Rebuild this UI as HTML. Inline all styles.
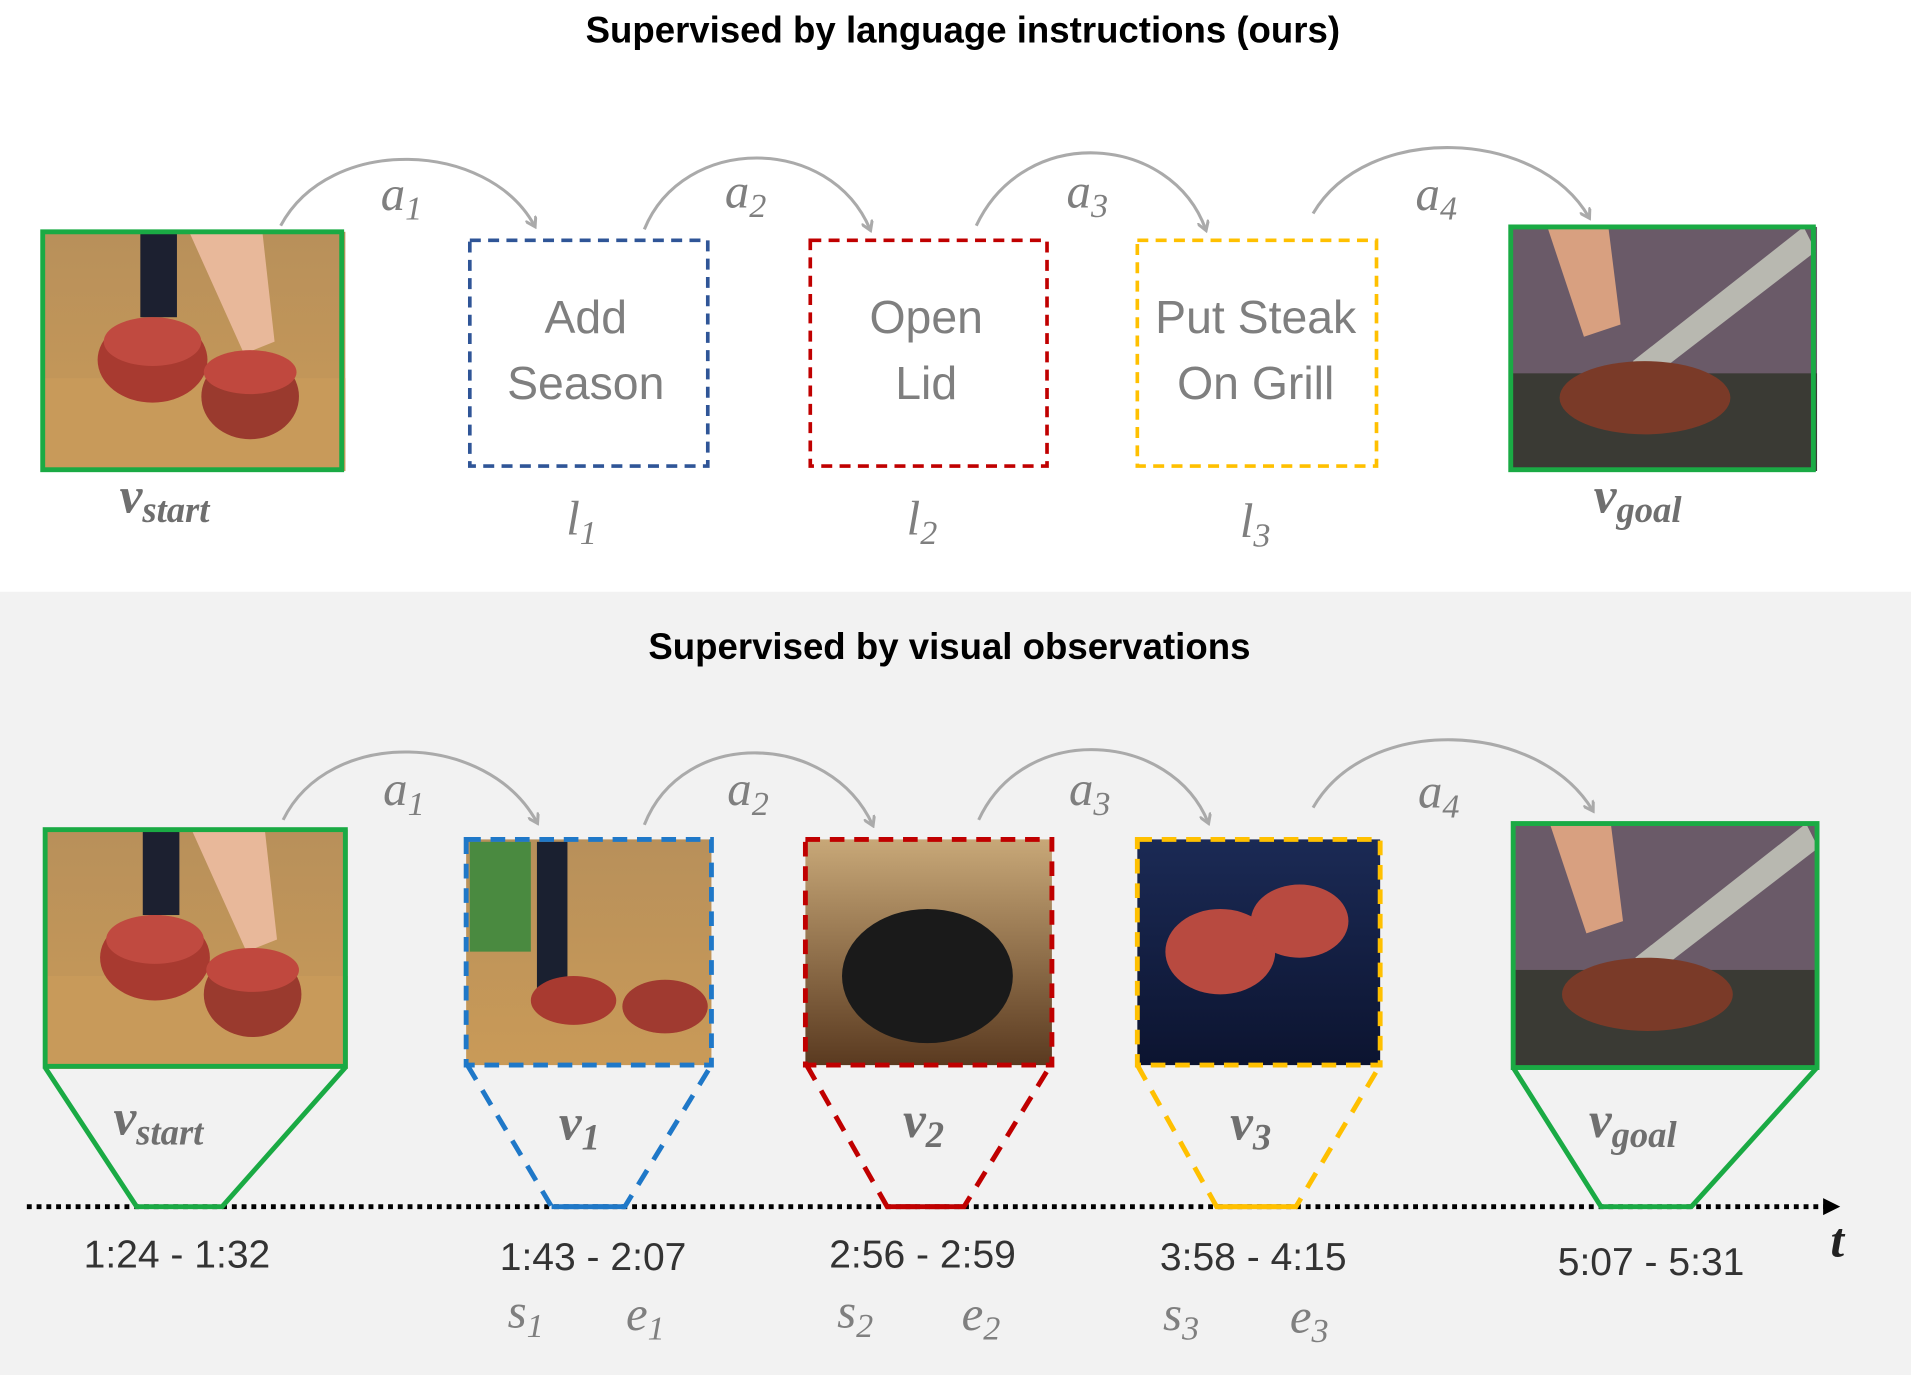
<!DOCTYPE html>
<html><head><meta charset="utf-8"><style>
html,body{margin:0;padding:0;background:#fff;width:1911px;height:1375px;overflow:hidden}
svg{display:block}
.t{font-family:"Liberation Sans",sans-serif;font-weight:bold;font-size:30px;fill:#000;text-anchor:middle}
.b{font-family:"Liberation Sans",sans-serif;font-size:38px;fill:#7f7f7f;text-anchor:middle}
.m{font-family:"Liberation Serif",serif;font-style:italic;fill:#7f7f7f}
.mv{font-family:"Liberation Serif",serif;font-style:italic;font-weight:bold;fill:#6f6f6f}
.tm{font-family:"Liberation Sans",sans-serif;font-size:32px;fill:#333;text-anchor:middle}
</style></head><body>
<svg width="1911" height="1375" viewBox="0 0 1566 1127" preserveAspectRatio="none">
<defs>
<marker id="ah" markerWidth="10" markerHeight="10" refX="7" refY="5" orient="auto" markerUnits="userSpaceOnUse"><path d="M0,0 L8,5 L0,10" fill="none" stroke="#aaa" stroke-width="2.5"/></marker>
<linearGradient id="wood" x1="0" y1="0" x2="0" y2="1"><stop offset="0" stop-color="#b8905a"/><stop offset="1" stop-color="#c99a58"/></linearGradient>
<linearGradient id="grill" x1="0" y1="0" x2="0" y2="1"><stop offset="0" stop-color="#c8a878"/><stop offset="1" stop-color="#5a3a20"/></linearGradient>
<linearGradient id="blue" x1="0" y1="0" x2="0" y2="1"><stop offset="0" stop-color="#1b2a55"/><stop offset="1" stop-color="#0c1430"/></linearGradient>
<g id="start">
<rect x="0" y="0" width="248" height="196" fill="url(#wood)"/>
<rect x="80" y="0" width="30" height="70" fill="#1c2030"/>
<path d="M120,0 L180,0 L190,90 L165,100 Z" fill="#e8b89a"/>
<rect x="0" y="120" width="248" height="76" fill="#c89a5a"/>
<ellipse cx="90" cy="105" rx="45" ry="35" fill="#a83a30"/>
<ellipse cx="90" cy="90" rx="40" ry="20" fill="#c04a40"/>
<ellipse cx="170" cy="135" rx="40" ry="35" fill="#9a3a2e"/>
<ellipse cx="170" cy="115" rx="38" ry="18" fill="#c0483e"/>
</g>
<g id="goal">
<rect x="0" y="0" width="251" height="200" fill="#6a5a68"/>
<rect x="0" y="120" width="251" height="80" fill="#3a3a34"/>
<path d="M30,0 L80,0 L90,80 L60,90 Z" fill="#d8a080"/>
<path d="M120,120 L250,20 L240,0 L100,110 Z" fill="#b8b8b0"/>
<ellipse cx="110" cy="140" rx="70" ry="30" fill="#7a3a28"/>
</g>
</defs>
<rect x="0" y="485" width="1566" height="642" fill="#f2f2f2"/>
<text class="t" x="789" y="35">Supervised by language instructions (ours)</text>
<text class="t" x="778" y="540">Supervised by visual observations</text>

<!-- top row -->
<use href="#start" x="35" y="190"/>
<rect x="35" y="190" width="245" height="195" fill="none" stroke="#1aaa44" stroke-width="4"/>
<use href="#goal" x="1238" y="186"/>
<rect x="1238" y="186" width="248" height="199" fill="none" stroke="#1aaa44" stroke-width="4"/>
<rect x="385" y="197" width="195" height="185" fill="none" stroke="#2f5597" stroke-width="3" stroke-dasharray="9,6"/>
<rect x="664" y="197" width="194" height="185" fill="none" stroke="#c00000" stroke-width="3" stroke-dasharray="9,6"/>
<rect x="932" y="197" width="196" height="185" fill="none" stroke="#ffc000" stroke-width="3" stroke-dasharray="9,6"/>
<text class="b" x="480" y="273">Add</text><text class="b" x="480" y="327">Season</text>
<text class="b" x="759" y="273">Open</text><text class="b" x="759" y="327">Lid</text>
<text class="b" x="1029" y="273">Put Steak</text><text class="b" x="1029" y="327">On Grill</text>
<text class="mv" x="98" y="420" font-size="42">v<tspan font-size="30" dy="8">start</tspan></text>
<text class="mv" x="1306" y="420" font-size="42">v<tspan font-size="30" dy="8">goal</tspan></text>
<text class="m" x="464" y="438" font-size="40">l<tspan font-size="28" dy="8">1</tspan></text>
<text class="m" x="743" y="438" font-size="40">l<tspan font-size="28" dy="8">2</tspan></text>
<text class="m" x="1016" y="440" font-size="40">l<tspan font-size="28" dy="8">3</tspan></text>
<g fill="none" stroke="#aaa" stroke-width="2.5" marker-end="url(#ah)">
<path d="M230,185 C270,110 400,115 438,185"/>
<path d="M528,188 C560,110 680,110 713,188"/>
<path d="M800,185 C840,100 960,110 988,188"/>
<path d="M1076,175 C1120,100 1260,105 1302,178"/>
<path d="M232,672 C270,595 400,600 440,674"/>
<path d="M528,676 C560,595 680,600 715,676"/>
<path d="M802,672 C840,590 960,600 990,674"/>
<path d="M1076,662 C1120,585 1260,590 1305,664"/>
</g>
<g class="m" font-size="40">
<text x="312" y="172">a<tspan font-size="28" dy="8">1</tspan></text>
<text x="594" y="170">a<tspan font-size="28" dy="8">2</tspan></text>
<text x="874" y="170">a<tspan font-size="28" dy="8">3</tspan></text>
<text x="1160" y="172">a<tspan font-size="28" dy="8">4</tspan></text>
<text x="314" y="660">a<tspan font-size="28" dy="8">1</tspan></text>
<text x="596" y="660">a<tspan font-size="28" dy="8">2</tspan></text>
<text x="876" y="660">a<tspan font-size="28" dy="8">3</tspan></text>
<text x="1162" y="662">a<tspan font-size="28" dy="8">4</tspan></text>
</g>

<!-- bottom row -->
<use href="#start" x="37" y="680"/>
<rect x="37" y="680" width="246" height="194" fill="none" stroke="#1aaa44" stroke-width="4"/>
<use href="#goal" x="1240" y="675"/>
<rect x="1240" y="675" width="249" height="200" fill="none" stroke="#1aaa44" stroke-width="4"/>
<rect x="382" y="688" width="201" height="185" fill="url(#wood)"/>
<rect x="385" y="690" width="50" height="90" fill="#4a8a40"/>
<rect x="440" y="690" width="25" height="120" fill="#1a2030"/>
<ellipse cx="470" cy="820" rx="35" ry="20" fill="#a83a30"/><ellipse cx="545" cy="825" rx="35" ry="22" fill="#a03a30"/>
<rect x="382" y="688" width="201" height="185" fill="none" stroke="#1f78c8" stroke-width="4" stroke-dasharray="12,8"/>
<rect x="660" y="688" width="202" height="185" fill="url(#grill)"/>
<ellipse cx="760" cy="800" rx="70" ry="55" fill="#1a1a1a"/>
<rect x="660" y="688" width="202" height="185" fill="none" stroke="#c00000" stroke-width="4" stroke-dasharray="12,8"/>
<rect x="932" y="688" width="199" height="185" fill="url(#blue)"/>
<ellipse cx="1000" cy="780" rx="45" ry="35" fill="#b84a40"/><ellipse cx="1065" cy="755" rx="40" ry="30" fill="#b84a40"/>
<rect x="932" y="688" width="199" height="185" fill="none" stroke="#ffc000" stroke-width="4" stroke-dasharray="12,8"/>

<line x1="22" y1="989" x2="1500" y2="989" stroke="#000" stroke-width="4" stroke-dasharray="4,4"/>
<path d="M1494,982 L1508,989 L1494,996 Z" fill="#000"/>
<text x="1500" y="1030" font-family="Liberation Serif,serif" font-style="italic" font-weight="bold" font-size="40" fill="#222">t</text>

<polyline points="37,875 112,989 182,989 283,875" fill="none" stroke="#1aaa44" stroke-width="4"/>
<polyline points="1240,875 1312,989 1386,989 1489,875" fill="none" stroke="#1aaa44" stroke-width="4"/>
<polyline points="383,873 452,989 512,989 583,873" fill="none" stroke="#1f78c8" stroke-width="4" stroke-dasharray="14,10"/>
<line x1="452" y1="989" x2="512" y2="989" stroke="#1f78c8" stroke-width="4"/>
<polyline points="661,873 727,989 790,989 861,873" fill="none" stroke="#c00000" stroke-width="4" stroke-dasharray="14,10"/>
<line x1="727" y1="989" x2="790" y2="989" stroke="#c00000" stroke-width="4"/>
<polyline points="932,873 997,989 1062,989 1131,873" fill="none" stroke="#ffc000" stroke-width="4" stroke-dasharray="14,10"/>
<line x1="997" y1="989" x2="1062" y2="989" stroke="#ffc000" stroke-width="4"/>

<text class="mv" x="93" y="930" font-size="42">v<tspan font-size="30" dy="8">start</tspan></text>
<text class="mv" x="458" y="934" font-size="42">v<tspan font-size="30" dy="8">1</tspan></text>
<text class="mv" x="740" y="932" font-size="42">v<tspan font-size="30" dy="8">2</tspan></text>
<text class="mv" x="1008" y="934" font-size="42">v<tspan font-size="30" dy="8">3</tspan></text>
<text class="mv" x="1302" y="932" font-size="42">v<tspan font-size="30" dy="8">goal</tspan></text>

<text class="tm" x="145" y="1039">1:24 - 1:32</text>
<text class="tm" x="486" y="1041">1:43 - 2:07</text>
<text class="tm" x="756" y="1039">2:56 - 2:59</text>
<text class="tm" x="1027" y="1041">3:58 - 4:15</text>
<text class="tm" x="1353" y="1045">5:07 - 5:31</text>
<g class="m" font-size="40">
<text x="416" y="1088">s<tspan font-size="28" dy="8">1</tspan></text>
<text x="513" y="1090">e<tspan font-size="28" dy="8">1</tspan></text>
<text x="686" y="1088">s<tspan font-size="28" dy="8">2</tspan></text>
<text x="788" y="1090">e<tspan font-size="28" dy="8">2</tspan></text>
<text x="953" y="1090">s<tspan font-size="28" dy="8">3</tspan></text>
<text x="1057" y="1092">e<tspan font-size="28" dy="8">3</tspan></text>
</g>
</svg>
</body></html>
